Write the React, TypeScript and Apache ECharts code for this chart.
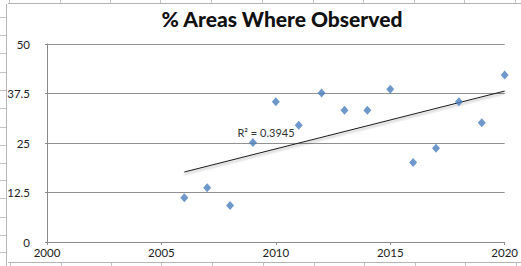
import React, { useEffect, useRef } from "react";
import * as echarts from "echarts";

const titleText = "% Areas Where Observed";
const years = [2006, 2007, 2008, 2009, 2010, 2011, 2012, 2013, 2014, 2015, 2016, 2017, 2018, 2019, 2020];
const values = [11.2, 13.7, 9.2, 25.1, 35.4, 29.5, 37.6, 33.3, 33.3, 38.6, 20.1, 23.7, 35.4, 30.1, 42.2];
const rSquaredLabel = "R² = 0.3945";
const yTickLabels = ["0", "12.5", "25", "37.5", "50"];

function regression(xs: number[], ys: number[]) {
  const n = xs.length;
  const mx = xs.reduce((a, b) => a + b, 0) / n;
  const my = ys.reduce((a, b) => a + b, 0) / n;
  let sxy = 0;
  let sxx = 0;
  for (let i = 0; i < n; i++) {
    sxy += (xs[i] - mx) * (ys[i] - my);
    sxx += (xs[i] - mx) * (xs[i] - mx);
  }
  const slope = sxy / sxx;
  return { slope, intercept: my - slope * mx };
}

export default function App() {
  const ref = useRef<HTMLDivElement>(null);
  useEffect(() => {
    if (!ref.current) return;
    const chart = echarts.init(ref.current, undefined, { renderer: "svg" });
    const { slope, intercept } = regression(years, values);
    const x0 = years[0];
    const x1 = years[years.length - 1];
    const trend = [
      [x0, slope * x0 + intercept],
      [x1, slope * x1 + intercept],
    ];
    const sheet = "#c4c4c4";
    const graphics: any[] = [];
    graphics.push({ type: "line", silent: true, shape: { x1: 6.5, y1: 4, x2: 6.5, y2: 266 }, style: { stroke: "#b4b4b4", lineWidth: 1 } });
    [17, 35, 53, 72, 90, 108, 127, 145, 163, 180, 198, 217, 235, 252].forEach((y) =>
      graphics.push({ type: "line", silent: true, shape: { x1: 0, y1: y + 0.5, x2: 6, y2: y + 0.5 }, style: { stroke: sheet, lineWidth: 1 } })
    );
    graphics.push({ type: "line", silent: true, shape: { x1: 8, y1: 3.5, x2: 521, y2: 3.5 }, style: { stroke: "#b4b4b4", lineWidth: 1 } });
    graphics.push({ type: "line", silent: true, shape: { x1: 8, y1: 262.5, x2: 521, y2: 262.5 }, style: { stroke: "#b4b4b4", lineWidth: 1 } });
    [9, 60, 110, 160, 211, 262, 313, 363, 414, 464, 515].forEach((x) => {
      graphics.push({ type: "line", silent: true, shape: { x1: x + 0.5, y1: 0, x2: x + 0.5, y2: 3 }, style: { stroke: sheet, lineWidth: 1 } });
      graphics.push({ type: "line", silent: true, shape: { x1: x + 1.5, y1: 263, x2: x + 1.5, y2: 266 }, style: { stroke: sheet, lineWidth: 1 } });
    });
    graphics.push({
      type: "text",
      silent: true,
      x: 266,
      y: 132.5,
      style: {
        text: rSquaredLabel,
        fontFamily: "Lato",
        fontSize: 11,
        fill: "#333",
        align: "center",
        verticalAlign: "middle",
      },
    });

    chart.setOption({
      animation: false,
      backgroundColor: "#fff",
      title: {
        text: titleText,
        left: 277,
        textAlign: "center",
        top: 3,
        textStyle: { fontFamily: "Lato", fontWeight: 900, fontSize: 21, color: "#111" },
      },
      grid: { left: 47, right: 13, top: 44, bottom: 24 },
      xAxis: {
        type: "value",
        min: 2000,
        max: 2020,
        interval: 5,
        splitLine: { show: false },
        axisLine: { lineStyle: { color: "#8a8a8a", width: 1 } },
        axisTick: { show: true, length: 3, lineStyle: { color: "#8a8a8a" } },
        axisLabel: { fontFamily: "Lato", fontSize: 11.5, color: "#222", margin: 4, formatter: (v: number) => String(v) },
      },
      yAxis: {
        type: "value",
        min: 0,
        max: 50,
        interval: 12.5,
        splitLine: { show: true, lineStyle: { color: "#909090", width: 1 } },
        axisLine: { show: true, lineStyle: { color: "#8a8a8a", width: 1 } },
        axisTick: { show: true, length: 2, lineStyle: { color: "#8a8a8a" } },
        axisLabel: {
          fontFamily: "Lato",
          fontSize: 11.5,
          color: "#222",
          margin: 17,
          formatter: (v: number) => yTickLabels[Math.round(v / 12.5)] ?? String(v),
        },
      },
      graphic: graphics,
      series: [
        {
          type: "line",
          data: trend,
          symbol: "none",
          lineStyle: {
            color: "#1a1a1a",
            width: 1,
            shadowColor: "rgba(0,0,0,0.35)",
            shadowBlur: 2,
            shadowOffsetY: 2,
          },
          z: 2,
        },
        {
          type: "scatter",
          data: years.map((y, i) => [y, values[i]]),
          symbol: "diamond",
          symbolSize: [8, 9],
          itemStyle: { color: "#4a7ebb" },
          z: 3,
        },
      ],
    });
    return () => chart.dispose();
  }, []);
  return <div ref={ref} style={{ position: "fixed", left: 0, top: 0, width: 521, height: 266 }} />;
}
